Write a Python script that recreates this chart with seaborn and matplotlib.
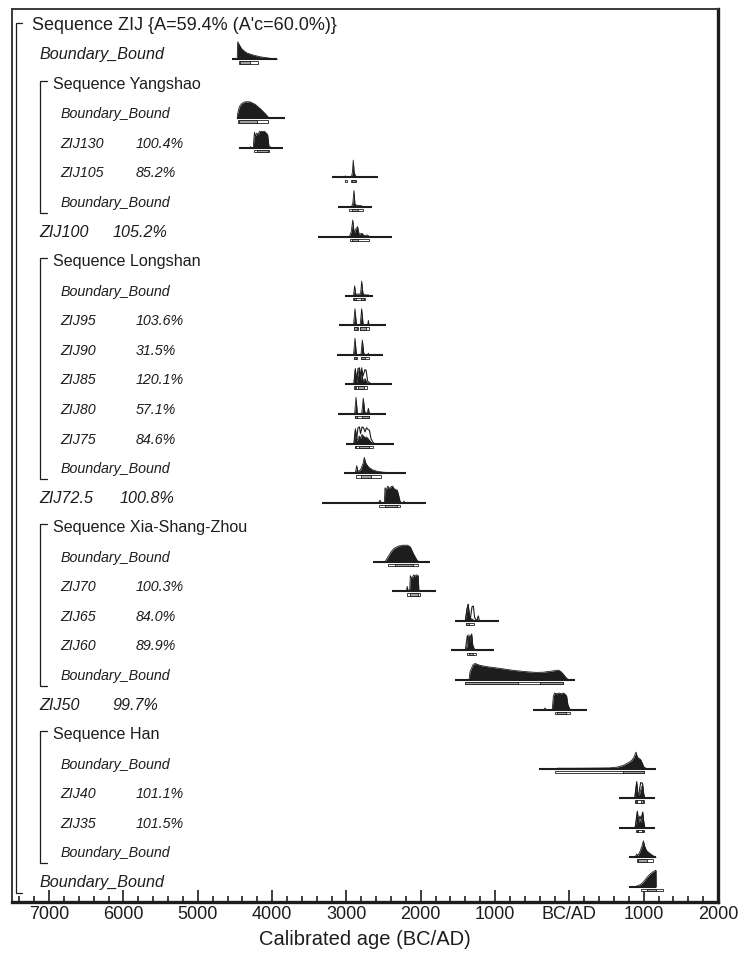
import matplotlib
matplotlib.use("Agg")
import matplotlib.pyplot as plt
from matplotlib.patches import Rectangle
from matplotlib.ticker import FixedLocator, MultipleLocator
import seaborn as sns
import pandas as pd

# ---------------------------------------------------------------------------
# Model structure: one entry per row, top to bottom
# ---------------------------------------------------------------------------
ROW_LABELS = [
    "Sequence ZIJ {A=59.4% (A'c=60.0%)}",
    "Boundary_Bound",
    "Sequence Yangshao",
    "Boundary_Bound", "ZIJ130", "ZIJ105", "Boundary_Bound",
    "ZIJ100",
    "Sequence Longshan",
    "Boundary_Bound", "ZIJ95", "ZIJ90", "ZIJ85", "ZIJ80", "ZIJ75", "Boundary_Bound",
    "ZIJ72.5",
    "Sequence Xia-Shang-Zhou",
    "Boundary_Bound", "ZIJ70", "ZIJ65", "ZIJ60", "Boundary_Bound",
    "ZIJ50",
    "Sequence Han",
    "Boundary_Bound", "ZIJ40", "ZIJ35", "Boundary_Bound",
    "Boundary_Bound",
]
# nesting level (0 = outer sequence, 1 = its members, 2 = inner members)
ROW_LEVELS = [0, 1, 1, 2, 2, 2, 2, 1, 1, 2, 2, 2, 2, 2, 2, 2, 1, 1, 2, 2, 2, 2, 2,
              1, 1, 2, 2, 2, 2, 1]
# agreement indices shown next to dated samples
AGREEMENT = {4: "100.4%", 5: "85.2%", 7: "105.2%", 10: "103.6%", 11: "31.5%",
             12: "120.1%", 13: "57.1%", 14: "84.6%", 16: "100.8%", 19: "100.3%",
             20: "84.0%", 21: "89.9%", 23: "99.7%", 26: "101.1%", 27: "101.5%"}
# (first row, last row) of each sequence bracket
SEQUENCES = [(0, 29), (2, 6), (8, 15), (17, 22), (24, 28)]

# ---------------------------------------------------------------------------
# Posterior / prior probability outlines (calendar year, relative density);
# BC years negative.  Baseline extents and 68.2% / 95.4% ranges per row.
# ---------------------------------------------------------------------------
START_ZIJ = [(-4470, 0), (-4463, 1.05), (-4409, 0.62), (-4342, 0.38), (-4253, 0.25),
             (-4163, 0.15), (-4028, 0.06), (-3930, 0)]
START_YANGSHAO = [(-4470, 0), (-4463, 0.3), (-4441, 0.7), (-4409, 0.9), (-4365, 1.0),
                  (-4297, 1.0), (-4230, 0.85), (-4163, 0.6), (-4096, 0.3), (-4042, 0.03),
                  (-4000, 0)]
ZIJ130 = [(-4300, 0), (-4290, 0.08), (-4280, 0), (-4253, 0), (-4245, 0.6), (-4237, 0.95),
          (-4225, 0.7), (-4205, 0.9), (-4190, 0.8), (-4170, 1.0), (-4100, 1.0),
          (-4060, 0.8), (-4040, 0), (-4025, 0.08), (-4010, 0)]
ZIJ105 = [(-3030, 0), (-3015, 0.1), (-3000, 0), (-2935, 0), (-2920, 0.3), (-2908, 1.05),
          (-2896, 0.3), (-2880, 0.12), (-2860, 0)]
END_YANGSHAO = [(-2935, 0), (-2915, 0.2), (-2898, 1.0), (-2885, 0.15), (-2850, 0.1),
                (-2800, 0.08), (-2770, 0)]
ZIJ100 = [(-2960, 0), (-2935, 0.3), (-2915, 1.0), (-2895, 0.2), (-2870, 0.5),
          (-2850, 0.6), (-2830, 0.15), (-2790, 0.2), (-2760, 0.05), (-2720, 0.1),
          (-2690, 0)]
START_LONGSHAN = [(-2905, 0), (-2890, 0.6), (-2875, 0.1), (-2810, 0.1), (-2795, 0.88),
                  (-2778, 0.15), (-2760, 0.05), (-2705, 0.05), (-2690, 0)]
ZIJ95 = [(-2905, 0), (-2885, 1.0), (-2865, 0), (-2815, 0), (-2795, 1.0), (-2775, 0.05),
         (-2715, 0), (-2705, 0.3), (-2695, 0)]
ZIJ90 = [(-2905, 0), (-2885, 1.0), (-2865, 0), (-2805, 0), (-2786, 0.9), (-2765, 0.05),
         (-2715, 0), (-2705, 0.1), (-2695, 0)]
ZIJ85 = [(-2900, 0), (-2880, 0.9), (-2862, 0.1), (-2845, 0.6), (-2825, 0.95),
         (-2810, 0.3), (-2795, 0.9), (-2778, 0.2), (-2750, 0.35), (-2735, 0.2),
         (-2715, 0.05), (-2690, 0)]
ZIJ85_PRIOR = [(-2900, 0), (-2880, 0.95), (-2862, 0.1), (-2845, 0.95), (-2825, 1.0),
               (-2810, 0.4), (-2795, 1.0), (-2778, 0.5), (-2750, 0.9), (-2735, 0.85),
               (-2715, 0.2), (-2690, 0.1), (-2650, 0)]
ZIJ80 = [(-2890, 0), (-2871, 1.0), (-2852, 0), (-2795, 0), (-2773, 0.95), (-2752, 0.1),
         (-2720, 0.05), (-2705, 0.35), (-2690, 0)]
ZIJ75 = [(-2895, 0), (-2878, 0.9), (-2862, 0.15), (-2845, 0.3), (-2825, 0.45),
         (-2810, 0.3), (-2790, 0.55), (-2770, 0.45), (-2750, 0.35), (-2730, 0.4),
         (-2710, 0.3), (-2690, 0.2), (-2670, 0.08), (-2640, 0)]
ZIJ75_PRIOR = [(-2900, 0), (-2880, 0.85), (-2862, 0.2), (-2845, 0.95), (-2825, 1.0),
               (-2810, 0.6), (-2790, 1.0), (-2770, 0.95), (-2750, 0.7), (-2730, 0.95),
               (-2710, 0.85), (-2690, 0.8), (-2670, 0.3), (-2640, 0.05), (-2620, 0)]
END_LONGSHAN = [(-2880, 0), (-2862, 0.45), (-2845, 0.1), (-2810, 0.2), (-2775, 0.6),
                (-2760, 0.95), (-2740, 0.6), (-2700, 0.35), (-2650, 0.2), (-2580, 0.1),
                (-2500, 0.05), (-2380, 0.02), (-2280, 0)]
ZIJ72_5 = [(-2570, 0), (-2548, 0.15), (-2530, 0), (-2490, 0), (-2481, 0.9),
           (-2465, 0.75), (-2445, 1.0), (-2425, 0.85), (-2405, 0.95), (-2378, 1.0),
           (-2360, 0.85), (-2340, 0.8), (-2316, 0.75), (-2300, 0.5), (-2279, 0.1),
           (-2265, 0), (-2235, 0), (-2225, 0.1), (-2215, 0)]
START_XSZ = [(-2481, 0), (-2440, 0.3), (-2400, 0.6), (-2360, 0.8), (-2300, 0.95),
             (-2240, 1.0), (-2180, 1.0), (-2140, 0.9), (-2100, 0.5), (-2050, 0.1),
             (-2024, 0)]
ZIJ70 = [(-2195, 0), (-2181, 0.3), (-2170, 0), (-2150, 0), (-2140, 0.95), (-2125, 0.8),
         (-2110, 0.85), (-2095, 1.0), (-2075, 0.9), (-2060, 1.0), (-2035, 0.95),
         (-2024, 0), (-2010, 0)]
ZIJ65 = [(-1400, 0), (-1378, 0.7), (-1362, 1.0), (-1345, 0.3), (-1330, 0.15),
         (-1305, 0.1), (-1290, 0.05), (-1270, 0)]
ZIJ65_PRIOR = [(-1400, 0), (-1378, 0.7), (-1362, 1.0), (-1345, 0.3), (-1330, 0.2),
               (-1310, 0.85), (-1292, 0.9), (-1275, 0.2), (-1245, 0), (-1226, 0.3),
               (-1210, 0)]
ZIJ60 = [(-1395, 0), (-1375, 0.3), (-1351, 0.95), (-1335, 0.5), (-1314, 1.0),
         (-1298, 0.2), (-1270, 0)]
ZIJ60_PRIOR = [(-1400, 0), (-1373, 0.9), (-1358, 0.5), (-1340, 0.7), (-1320, 0.95),
               (-1300, 0.3), (-1270, 0)]
END_XSZ = [(-1350, 0), (-1337, 0.5), (-1300, 0.9), (-1270, 1.0), (-1200, 0.88),
           (-1100, 0.8), (-933, 0.7), (-750, 0.58), (-574, 0.5), (-450, 0.46),
           (-355, 0.47), (-220, 0.55), (-149, 0.6), (-110, 0.5), (-81, 0.35),
           (-40, 0.12), (-13, 0.03), (30, 0)]
ZIJ50 = [(-340, 0), (-328, 0.1), (-315, 0), (-230, 0), (-216, 0.8), (-200, 1.0),
         (-170, 0.95), (-140, 1.0), (-110, 0.95), (-80, 1.0), (-50, 0.9), (-36, 0.8),
         (-20, 0.3), (9, 0)]
START_HAN = [(-200, 0), (-150, 0.03), (100, 0.03), (400, 0.04), (547, 0.05), (650, 0.1),
             (726, 0.2), (790, 0.35), (838, 0.5), (870, 0.7), (896, 1.0), (912, 0.75),
             (927, 0.65), (960, 0.55), (985, 0.3), (1004, 0.1), (1040, 0)]
ZIJ40 = [(880, 0), (895, 0.55), (906, 0.95), (918, 0.25), (940, 0.2), (960, 0.5),
         (985, 0.8), (1000, 0.2), (1015, 0)]
ZIJ40_PRIOR = [(880, 0), (895, 0.6), (906, 1.0), (918, 0.3), (935, 0.3), (960, 0.95),
               (985, 0.9), (1000, 0.3), (1015, 0)]
ZIJ35 = [(885, 0), (900, 0.45), (915, 0.95), (930, 0.35), (950, 0.45), (965, 0.35),
         (987, 0.9), (1000, 0.35), (1015, 0)]
ZIJ35_PRIOR = [(885, 0), (900, 0.5), (915, 1.0), (930, 0.4), (950, 0.7), (965, 0.5),
               (987, 0.95), (1000, 0.4), (1015, 0)]
END_HAN = [(880, 0), (906, 0.2), (920, 0.1), (950, 0.35), (975, 0.65), (996, 1.0),
           (1015, 0.65), (1040, 0.4), (1080, 0.25), (1120, 0.12), (1166, 0)]
END_ZIJ = [(870, 0), (906, 0.05), (960, 0.15), (1000, 0.32), (1040, 0.55), (1080, 0.75),
           (1120, 0.9), (1160, 1.0), (1166, 1.0), (1168, 0)]

POSTERIORS = {1: START_ZIJ, 3: START_YANGSHAO, 4: ZIJ130, 5: ZIJ105, 6: END_YANGSHAO,
              7: ZIJ100, 9: START_LONGSHAN, 10: ZIJ95, 11: ZIJ90, 12: ZIJ85, 13: ZIJ80,
              14: ZIJ75, 15: END_LONGSHAN, 16: ZIJ72_5, 18: START_XSZ, 19: ZIJ70,
              20: ZIJ65, 21: ZIJ60, 22: END_XSZ, 23: ZIJ50, 25: START_HAN, 26: ZIJ40,
              27: ZIJ35, 28: END_HAN, 29: END_ZIJ}
PRIORS = {12: ZIJ85_PRIOR, 14: ZIJ75_PRIOR, 20: ZIJ65_PRIOR, 21: ZIJ60_PRIOR,
          26: ZIJ40_PRIOR, 27: ZIJ35_PRIOR}

BASELINES = {1: (-4544, -3930), 3: (-4476, -3827), 4: (-4445, -3849), 5: (-3198, -2571),
             6: (-3109, -2660), 7: (-3382, -2387), 9: (-3019, -2646), 10: (-3100, -2468),
             11: (-3131, -2512), 12: (-3019, -2391), 13: (-3109, -2468),
             14: (-3006, -2360), 15: (-3028, -2198), 16: (-3330, -1930),
             18: (-2646, -1875), 19: (-2391, -1795), 20: (-1539, -943),
             21: (-1597, -1014), 22: (-1539, 76), 23: (-485, 233), 25: (-404, 1166),
             26: (672, 1152), 27: (672, 1152), 28: (807, 1166), 29: (807, 1166)}

RANGE_95 = {1: [(-4440, -4190)], 3: [(-4463, -4051)], 4: [(-4239, -4037)],
            5: [(-3019, -2990), (-2935, -2875)], 6: [(-2961, -2773)],
            7: [(-2950, -2700)], 9: [(-2907, -2750)],
            10: [(-2900, -2850), (-2820, -2690)], 11: [(-2900, -2860), (-2810, -2700)],
            12: [(-2895, -2720)], 13: [(-2890, -2690)], 14: [(-2890, -2640)],
            15: [(-2875, -2535)], 16: [(-2557, -2279)], 18: [(-2436, -2041)],
            19: [(-2189, -2010)], 20: [(-1395, -1283)], 21: [(-1382, -1256)],
            22: [(-1400, -90)], 23: [(-193, 9)], 25: [(-193, 1004)], 26: [(883, 1004)],
            27: [(890, 1004)], 28: [(906, 1121)], 29: [(960, 1260)]}
RANGE_68 = {1: [(-4430, -4300)], 3: [(-4441, -4207)], 4: [(-4205, -4060)],
            5: [(-2925, -2890)], 6: [(-2920, -2840)], 7: [(-2925, -2840)],
            9: [(-2895, -2870), (-2810, -2770)], 10: [(-2893, -2853), (-2817, -2741)],
            11: [(-2893, -2868), (-2800, -2750)], 12: [(-2890, -2870), (-2840, -2760)],
            13: [(-2885, -2860), (-2790, -2700)], 14: [(-2885, -2865), (-2825, -2700)],
            15: [(-2804, -2669)], 16: [(-2481, -2325)], 18: [(-2346, -2108)],
            19: [(-2144, -2040)], 20: [(-1385, -1345)], 21: [(-1356, -1300)],
            22: [(-1400, -687), (-395, -90)], 23: [(-170, -40)], 25: [(726, 1004)],
            26: [(895, 915), (960, 995)], 27: [(905, 925), (975, 995)],
            28: [(925, 1040)], 29: [(1040, 1170)]}

MAJOR_YEARS = [-7000, -6000, -5000, -4000, -3000, -2000, -1000, 0, 1000, 2000]
MAJOR_LABELS = ["7000", "6000", "5000", "4000", "3000", "2000", "1000", "BC/AD",
                "1000", "2000"]

# ---------------------------------------------------------------------------
INK = "#1f1c1d"
PEAK = 0.56          # height of a unit-density outline, in row units

sns.set_theme(style="ticks")
plt.rcParams["font.family"] = ["Liberation Sans", "DejaVu Sans"]

fig = plt.figure(figsize=(7.38, 9.57), dpi=100)
ax = fig.add_axes([12 / 738, 1 - 902 / 957, 706 / 738, 893 / 957])
ax.set_xlim(-7500, 2000)
ax.set_ylim(29.51, -0.70)


def curve_frame(table, kind):
    recs = []
    for row, pts in table.items():
        for i, (yr, dens) in enumerate(pts):
            recs.append({"row": row, "kind": kind, "order": i, "year": yr,
                         "dens": dens, "y": row - dens * PEAK})
    return pd.DataFrame(recs)


post_df = curve_frame(POSTERIORS, "posterior")
prior_df = curve_frame(PRIORS, "prior")

# baselines under every distribution
for row, (lo, hi) in BASELINES.items():
    ax.plot([lo, hi], [row, row], color=INK, lw=1.5, solid_capstyle="butt", zorder=2)

# prior likelihoods as open outlines
sns.lineplot(data=prior_df, x="year", y="y", units="row", estimator=None, sort=False,
             color=INK, lw=0.8, ax=ax, legend=False, zorder=3)

# posteriors as solid silhouettes
for row, grp in post_df.groupby("row"):
    ax.fill_between(grp["year"], grp["row"], grp["y"], color=INK, lw=0, zorder=4)
sns.lineplot(data=post_df, x="year", y="y", units="row", estimator=None, sort=False,
             color=INK, lw=0.6, ax=ax, legend=False, zorder=4)

# highest posterior density ranges
BAR_TOP, BAR_H = 0.07, 0.08
for row, spans in RANGE_95.items():
    for lo, hi in spans:
        ax.add_patch(Rectangle((lo, row + BAR_TOP), hi - lo, BAR_H, facecolor="white",
                               edgecolor=INK, lw=0.6, zorder=5))
for row, spans in RANGE_68.items():
    for lo, hi in spans:
        ax.add_patch(Rectangle((lo, row + BAR_TOP), hi - lo, BAR_H, facecolor="#a0a0a0",
                               edgecolor=INK, lw=0.6, zorder=6))

# row labels
tx = ax.get_yaxis_transform()  # x in axes fraction, y in data
LABEL_X = {0: 0.0279, 1: 0.0387, 2: 0.069}
SEQ_X = {0: 0.0279, 1: 0.0576}
VALUE_X = {1: 0.1426, 2: 0.1756}
for row, (label, lvl) in enumerate(zip(ROW_LABELS, ROW_LEVELS)):
    if label.startswith("Sequence"):
        size = 13 if lvl == 0 else 11.6
        ax.text(SEQ_X[lvl], row, label, transform=tx, fontsize=size, color=INK,
                va="baseline", ha="left")
    else:
        size = 11.6 if lvl == 1 else 10.3
        ax.text(LABEL_X[lvl], row, label, transform=tx, fontsize=size, color=INK,
                style="italic", va="baseline", ha="left")
        if row in AGREEMENT:
            vx = 0.153 if label == "ZIJ72.5" else VALUE_X[lvl]
            ax.text(vx, row, AGREEMENT[row], transform=tx, fontsize=size, color=INK,
                    style="italic", va="baseline", ha="left")

# sequence brackets
for first, last in SEQUENCES:
    if first == 0:
        xv, xt = 0.0057, 0.0135
        top, bot = first - 0.24, last + 0.19
    else:
        xv, xt = 0.0397, 0.0496
        top, bot = first - 0.27, last + 0.2
    ax.plot([xt, xv, xv, xt], [top, top, bot, bot], transform=tx, color=INK, lw=0.9,
            solid_joinstyle="miter", zorder=3)

# axis styling
ax.xaxis.set_major_locator(FixedLocator(MAJOR_YEARS))
ax.set_xticklabels(MAJOR_LABELS)
ax.xaxis.set_minor_locator(MultipleLocator(200))
ax.tick_params(axis="x", which="major", direction="in", length=9, width=1.2,
               color=INK, labelsize=13, labelcolor=INK, pad=3, top=False)
ax.tick_params(axis="x", which="minor", direction="in", length=4.5, width=1.2,
               color=INK, top=False)
ax.set_yticks([])
ax.set_ylabel("")
ax.set_xlabel("Calibrated age (BC/AD)", fontsize=14.5, color=INK, labelpad=5)
for side in ("top", "left"):
    ax.spines[side].set_linewidth(1.4)
    ax.spines[side].set_color("#3a3a3a")
for side in ("right", "bottom"):
    ax.spines[side].set_linewidth(2.4)
    ax.spines[side].set_color(INK)
ax.set_facecolor("white")
fig.patch.set_facecolor("white")

fig.savefig("out.png", dpi=100, facecolor="white")
